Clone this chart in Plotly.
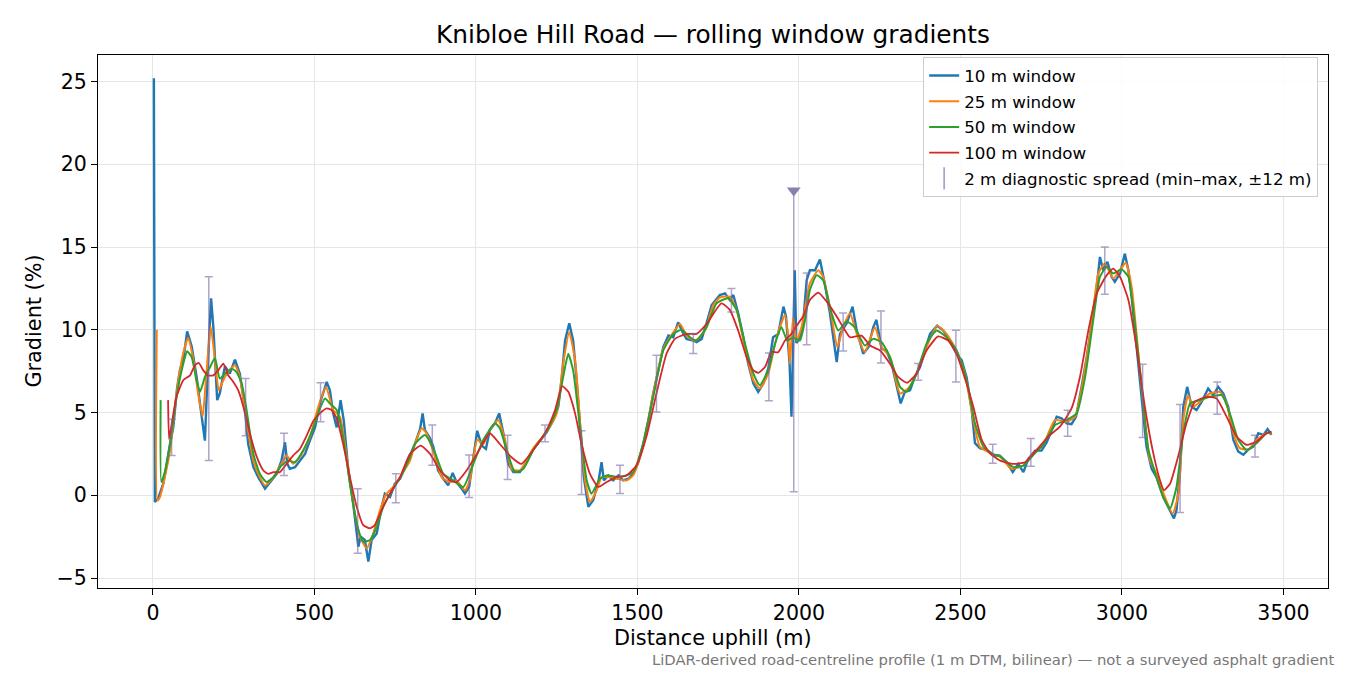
import plotly.graph_objects as go

# rolling-window gradient profiles (distance m, gradient %)
w10_x = [3, 6, 16, 32, 53, 63, 75, 84, 95, 106, 120, 135, 146, 161, 171, 180, 187, 199, 207, 223,
         238, 254, 269, 285, 295, 311, 326, 347, 367, 383, 398, 409, 416, 424, 440, 455, 471, 486, 502, 517,
         538, 548, 558, 569, 581, 591, 605, 620, 636, 643, 656, 667, 677, 693, 708, 718, 734, 749, 765, 785,
         811, 827, 835, 842, 858, 868, 883, 899, 914, 928, 940, 956, 966, 979, 992, 1004, 1018, 1031, 1043, 1059,
         1072, 1085, 1100, 1116, 1136, 1157, 1178, 1198, 1219, 1240, 1255, 1265, 1276, 1289, 1301, 1312, 1322, 1334, 1348, 1363,
         1379, 1389, 1396, 1410, 1425, 1441, 1456, 1472, 1487, 1503, 1518, 1534, 1549, 1565, 1580, 1596, 1611, 1626, 1640, 1652,
         1673, 1683, 1699, 1714, 1730, 1755, 1771, 1786, 1797, 1812, 1828, 1843, 1859, 1874, 1890, 1905, 1920, 1936, 1952, 1960,
         1966, 1971, 1977, 1982, 1987, 1992, 2003, 2013, 2024, 2034, 2050, 2065, 2080, 2096, 2108, 2117, 2127, 2148, 2166, 2179,
         2199, 2215, 2230, 2240, 2256, 2271, 2287, 2302, 2315, 2328, 2344, 2359, 2375, 2390, 2406, 2428, 2447, 2467, 2488, 2504,
         2519, 2535, 2545, 2560, 2581, 2602, 2622, 2643, 2662, 2679, 2695, 2710, 2731, 2751, 2767, 2785, 2798, 2813, 2829, 2844,
         2858, 2875, 2891, 2906, 2922, 2932, 2942, 2955, 2968, 2978, 2994, 3009, 3020, 3030, 3045, 3061, 3076, 3092, 3107, 3128,
         3149, 3161, 3169, 3180, 3190, 3202, 3216, 3231, 3247, 3267, 3283, 3298, 3314, 3329, 3345, 3360, 3376, 3391, 3407, 3422,
         3438, 3451, 3463]
w10_y = [25.2, -0.4, -0.2, 0.7, 3.1, 4.1, 6.5, 7.6, 8.3, 9.9, 9.0, 7.2, 5.5, 3.3, 8.2, 11.9, 10.2, 5.75, 6.15, 7.8,
         7.35, 8.2, 7.35, 5.15, 3.1, 1.7, 1.1, 0.4, 0.9, 1.3, 2.1, 3.2, 1.9, 1.6, 1.7, 2.1, 2.5, 3.3, 4.1, 5.55,
         6.85, 6.35, 4.95, 4.1, 5.75, 4.5, 1.5, -0.5, -3.1, -2.5, -2.7, -4.0, -2.7, -2.3, -0.7, 0.1, -0.1, 0.7, 1.0, 1.9,
         3.1, 4.0, 4.95, 3.95, 3.45, 2.95, 1.5, 1.0, 0.6, 1.35, 0.8, 0.4, 0.1, 0.5, 2.3, 3.9, 3.0, 2.8, 3.95, 4.35,
         4.95, 3.75, 1.9, 1.4, 1.4, 2.0, 2.8, 3.3, 3.8, 4.55, 5.35, 6.95, 9.35, 10.4, 9.35, 6.95, 4.35, 1.1, -0.7, -0.3,
         0.8, 2.0, 0.9, 1.2, 0.9, 1.2, 0.9, 1.0, 1.3, 2.0, 3.1, 4.55, 6.15, 7.55, 8.95, 9.65, 9.55, 10.45, 9.85, 9.45,
         9.35, 9.25, 9.45, 10.4, 11.5, 12.1, 12.2, 11.8, 12.1, 11.0, 9.55, 7.95, 6.75, 6.25, 6.75, 7.65, 9.55, 9.75, 11.4, 10.8,
         9.2, 8.0, 4.75, 8.5, 13.6, 9.2, 9.55, 10.4, 13.0, 13.6, 13.6, 14.25, 12.8, 11.0, 9.2, 8.05, 9.75, 10.4, 11.4, 9.95,
         8.55, 8.95, 10.15, 10.6, 8.85, 8.75, 7.95, 6.75, 5.55, 6.25, 6.35, 7.15, 7.75, 8.75, 9.75, 10.25, 9.95, 9.35, 8.55, 8.15,
         7.15, 5.15, 3.15, 2.85, 2.75, 2.45, 2.4, 2.0, 1.4, 1.9, 1.4, 2.2, 2.7, 2.7, 3.2, 4.05, 4.75, 4.65, 4.35, 4.3,
         4.75, 6.55, 8.35, 10.35, 12.6, 14.4, 13.6, 14.1, 13.2, 12.9, 13.4, 14.6, 13.6, 12.0, 8.95, 5.95, 2.95, 1.6, 1.1, -0.1,
         -0.9, -1.4, -0.9, 1.5, 5.35, 6.55, 5.35, 5.15, 5.65, 6.45, 6.05, 6.55, 6.15, 5.35, 3.35, 2.65, 2.45, 2.75, 2.95, 3.75,
         3.65, 4.0, 3.65]

w25_x = [12, 14, 22, 37, 53, 73, 94, 109, 125, 140, 154, 164, 179, 192, 204, 218, 233, 254, 269, 290,
         311, 331, 347, 373, 398, 414, 434, 455, 486, 512, 536, 558, 579, 600, 620, 641, 662, 682, 703, 723,
         744, 765, 796, 811, 832, 847, 868, 894, 920, 940, 966, 981, 1004, 1023, 1043, 1069, 1090, 1110, 1136, 1178,
         1219, 1250, 1270, 1289, 1307, 1322, 1338, 1353, 1374, 1389, 1410, 1436, 1466, 1487, 1518, 1549, 1580, 1601, 1632, 1652,
         1678, 1709, 1735, 1755, 1786, 1807, 1833, 1859, 1879, 1905, 1931, 1957, 1967, 1972, 1982, 1993, 2008, 2034, 2060, 2075,
         2101, 2119, 2137, 2158, 2179, 2204, 2235, 2256, 2282, 2313, 2338, 2364, 2395, 2428, 2457, 2488, 2514, 2540, 2560, 2602,
         2622, 2658, 2695, 2726, 2756, 2793, 2829, 2855, 2880, 2906, 2927, 2947, 2973, 2994, 3012, 3030, 3051, 3071, 3087, 3107,
         3133, 3157, 3175, 3190, 3205, 3221, 3242, 3272, 3303, 3324, 3345, 3365, 3391, 3417, 3448, 3463]
w25_y = [10.0, -0.3, -0.1, 1.1, 2.7, 6.15, 8.6, 9.5, 8.2, 6.15, 4.75, 6.95, 10.2, 8.2, 6.35, 6.95, 7.45, 7.85, 7.15, 4.5,
         2.1, 1.1, 0.6, 1.1, 1.9, 2.4, 1.9, 2.3, 3.5, 5.35, 6.55, 5.15, 4.75, 2.35, -0.5, -2.5, -3.2, -2.3, -0.9, 0.1,
         0.5, 1.1, 2.1, 3.1, 4.05, 3.75, 2.65, 1.1, 0.8, 0.9, 0.3, 0.9, 3.35, 3.1, 3.95, 4.55, 3.35, 1.6, 1.5, 2.85,
         3.85, 4.95, 7.95, 9.85, 8.15, 4.55, 0.9, -0.4, 0.3, 1.1, 1.1, 1.0, 0.9, 1.2, 2.95, 6.15, 8.85, 9.55, 10.35, 9.65,
         9.35, 9.95, 11.5, 11.95, 12.0, 11.2, 8.95, 6.95, 6.45, 7.35, 9.55, 10.9, 9.55, 7.95, 10.75, 9.35, 10.15, 12.8, 13.6, 13.2,
         10.8, 8.95, 10.15, 11.0, 9.75, 8.65, 10.15, 8.95, 8.35, 6.15, 6.45, 7.35, 8.95, 10.25, 9.75, 8.75, 7.35, 4.55, 2.95, 2.45,
         2.35, 1.6, 1.8, 2.55, 3.05, 4.55, 4.45, 4.75, 6.95, 10.35, 13.4, 14.0, 13.1, 13.6, 14.05, 12.6, 8.55, 4.55, 2.1, 1.3,
         -0.1, -1.1, 0.1, 4.55, 6.05, 5.35, 5.65, 6.15, 6.25, 5.55, 3.75, 2.85, 2.75, 3.35, 3.75, 3.75]

w50_x = [24, 26, 37, 53, 73, 94, 106, 120, 135, 146, 161, 177, 192, 207, 223, 244, 259, 275, 290, 311,
         331, 352, 373, 398, 419, 440, 465, 497, 517, 533, 548, 569, 589, 610, 631, 651, 672, 693, 713, 734,
         765, 796, 811, 842, 868, 899, 930, 961, 992, 1023, 1059, 1074, 1095, 1121, 1147, 1178, 1219, 1250, 1270, 1286,
         1301, 1322, 1343, 1358, 1384, 1405, 1446, 1487, 1518, 1549, 1580, 1611, 1637, 1663, 1683, 1714, 1745, 1781, 1807, 1833,
         1859, 1879, 1905, 1926, 1946, 1964, 1982, 2003, 2019, 2034, 2055, 2075, 2101, 2122, 2148, 2173, 2204, 2230, 2256, 2282,
         2313, 2333, 2364, 2395, 2426, 2457, 2488, 2519, 2545, 2571, 2602, 2622, 2664, 2695, 2726, 2756, 2793, 2829, 2860, 2886,
         2911, 2932, 2953, 2973, 2999, 3020, 3035, 3056, 3082, 3107, 3128, 3149, 3169, 3190, 3211, 3242, 3272, 3309, 3334, 3360,
         3386, 3417, 3448, 3463]
w50_y = [5.75, 0.8, 1.4, 3.1, 5.95, 7.95, 8.7, 8.35, 6.95, 6.25, 7.15, 7.75, 8.3, 7.05, 7.35, 7.65, 7.45, 6.75, 5.15, 2.5,
         1.3, 0.8, 1.1, 1.8, 2.1, 2.0, 2.7, 4.1, 5.25, 5.85, 5.55, 5.15, 3.5, 0.7, -1.7, -2.8, -2.7, -1.9, -0.7, 0.1,
         1.05, 2.3, 3.1, 3.65, 2.85, 1.3, 0.9, 0.5, 1.9, 3.35, 4.35, 4.05, 2.75, 1.4, 1.6, 2.75, 3.85, 5.15, 7.15, 8.55,
         7.55, 4.15, 0.9, 0.1, 1.0, 1.2, 1.1, 1.4, 3.15, 5.95, 8.75, 9.75, 10.0, 9.55, 9.35, 10.15, 11.6, 11.9, 11.2, 9.15,
         7.35, 6.65, 7.55, 9.15, 10.15, 9.35, 9.55, 9.35, 10.6, 12.4, 13.3, 13.0, 11.0, 9.95, 10.5, 10.15, 9.05, 9.45, 9.25, 8.35,
         6.55, 6.25, 7.35, 9.15, 9.95, 9.55, 8.75, 6.95, 4.35, 2.95, 2.45, 2.35, 1.7, 1.8, 2.45, 3.05, 4.25, 4.55, 4.95, 7.15,
         10.55, 13.2, 13.8, 13.4, 13.65, 13.2, 11.2, 7.55, 2.75, 1.1, -0.1, -0.8, 0.5, 3.75, 5.55, 5.75, 5.95, 6.05, 4.95, 3.35,
         2.75, 3.15, 3.75, 3.8]

w100_x = [47, 50, 58, 73, 94, 115, 130, 142, 156, 171, 187, 202, 218, 233, 249, 264, 280, 300, 321, 342,
          357, 373, 393, 414, 434, 455, 476, 497, 517, 538, 553, 569, 589, 610, 631, 651, 672, 687, 708, 734,
          765, 796, 829, 858, 889, 920, 940, 971, 1012, 1043, 1074, 1110, 1141, 1178, 1219, 1245, 1267, 1286, 1307, 1327,
          1353, 1379, 1405, 1436, 1466, 1497, 1528, 1559, 1590, 1616, 1652, 1683, 1714, 1760, 1786, 1812, 1838, 1859, 1874, 1895,
          1915, 1936, 1957, 1977, 1993, 2013, 2034, 2060, 2086, 2117, 2137, 2158, 2194, 2220, 2251, 2282, 2307, 2335, 2364, 2395,
          2431, 2462, 2488, 2519, 2540, 2566, 2591, 2622, 2664, 2700, 2736, 2772, 2808, 2844, 2870, 2896, 2922, 2953, 2973, 2994,
          3020, 3045, 3071, 3097, 3118, 3130, 3149, 3174, 3200, 3226, 3262, 3293, 3324, 3355, 3386, 3417, 3448, 3463]
w100_y = [5.75, 3.4, 4.3, 5.95, 6.95, 7.25, 7.85, 8.0, 7.55, 7.25, 7.25, 7.55, 7.95, 7.25, 6.85, 6.35, 5.35, 3.75, 2.35, 1.5,
          1.3, 1.4, 1.4, 1.9, 2.4, 2.8, 3.6, 4.5, 4.95, 5.25, 5.15, 4.65, 3.1, 1.1, -0.7, -1.8, -2.0, -1.8, -0.9, 0.1,
          1.1, 2.5, 3.0, 2.5, 1.5, 0.9, 0.8, 1.5, 2.8, 3.75, 3.1, 2.3, 1.9, 2.75, 3.95, 5.15, 6.6, 6.25, 4.95, 3.1,
          1.3, 0.5, 0.8, 1.1, 1.2, 1.8, 3.55, 6.15, 8.55, 9.45, 9.75, 9.75, 10.35, 11.6, 11.2, 9.95, 8.35, 7.55, 7.4, 7.75,
          8.65, 8.65, 9.35, 9.75, 10.25, 10.8, 11.8, 12.25, 11.7, 10.8, 10.15, 9.55, 9.65, 9.05, 8.75, 7.95, 7.15, 6.8, 7.35, 8.75,
          9.6, 9.35, 8.55, 6.75, 5.35, 3.35, 2.55, 2.1, 1.9, 2.0, 2.75, 3.55, 4.15, 5.25, 7.15, 9.95, 12.2, 13.3, 13.7, 13.2,
          11.8, 8.95, 5.35, 2.55, 0.9, 0.3, 0.7, 2.35, 4.35, 5.65, 5.95, 5.85, 4.75, 3.55, 3.05, 3.25, 3.75, 3.85]

# 2 m diagnostic spread (min / max within +-12 m)
diag_x = [58, 173, 287, 406, 519, 634, 752, 865, 979, 1098, 1214, 1327, 1446, 1559, 1673,
          1791, 1907, 1984, 2024, 2137, 2254, 2369, 2486, 2600, 2718, 2832, 2947, 3064, 3180, 3295, 3412]
diag_hi = [4.6, 13.2, 7.05, 3.75, 6.8, 0.4, 1.3, 4.24, 2.43, 3.63, 4.24, 3.9, 1.82, 8.46, 9.77,
           12.49, 8.6, 18.42, 13.43, 11.02, 11.14, 7.96, 9.97, 3.09, 3.43, 5.14, 15.0, 7.92, 5.48, 6.85, 3.63]
diag_lo = [2.4, 2.1, 3.6, 1.2, 4.45, -3.5, -0.45, 1.82, -0.13, 0.96, 3.23, 0.05, 0.11, 5.04, 8.56,
           11.08, 5.71, 0.21, 9.09, 8.72, 8.0, 6.95, 6.85, 1.93, 1.76, 3.57, 12.14, 3.49, -1.04, 4.9, 2.32]
clip_x = [1984]
clip_y = [18.42]

FONT = 'DejaVu Sans'
DIAG_COLOR = 'rgba(120,104,165,0.6)'

fig = go.Figure()

# the 10 m line keeps straight segments so the start spike stays vertical
series = [
    (w10_x, w10_y, '10 m window', '#1f77b4', 2.4, 'linear'),
    (w25_x, w25_y, '25 m window', '#ff7f0e', 2.0, 'spline'),
    (w50_x, w50_y, '50 m window', '#2ca02c', 2.0, 'spline'),
    (w100_x, w100_y, '100 m window', '#d62728', 1.8, 'spline'),
]
for xs, ys, name, color, lw, shape in series:
    fig.add_trace(go.Scatter(x=xs, y=ys, mode='lines', name=name, legendgroup=name,
                             line=dict(color=color, width=lw, shape=shape, smoothing=0.5)))

fig.add_trace(go.Scatter(
    x=diag_x, y=diag_lo, mode='markers', showlegend=False, hoverinfo='skip',
    marker=dict(size=1, color='rgba(0,0,0,0)'),
    error_y=dict(type='data', symmetric=False,
                 array=[h - l for h, l in zip(diag_hi, diag_lo)],
                 arrayminus=[0] * len(diag_lo),
                 color=DIAG_COLOR, thickness=1.5, width=4)))

fig.add_trace(go.Scatter(x=clip_x, y=clip_y, mode='markers', showlegend=False,
                         marker=dict(symbol='triangle-down', size=12, color='#8a7fae')))

# legend entry for the spread bars
fig.add_trace(go.Scatter(x=[None], y=[None], mode='markers',
                         name='2 m diagnostic spread (min–max, ±12 m)', legendgroup='diag',
                         marker=dict(symbol='line-ns', size=16,
                                     line=dict(width=1.8, color=DIAG_COLOR))))

# page body adds an 8 px offset, margins compensate for it
fig.update_layout(
    width=1350, height=675,
    margin=dict(l=90, r=30, t=47, b=95),
    paper_bgcolor='white', plot_bgcolor='white',
    font=dict(family=FONT, size=20.8, color='black'),
    title=dict(text='Knibloe Hill Road — rolling window gradients', x=0.5, xanchor='center',
               xref='paper', y=0.9615, yanchor='middle', font=dict(size=24.8)),
    showlegend=True,
    legend=dict(x=0.992, y=0.996, xanchor='right', yanchor='top',
                bgcolor='rgba(255,255,255,0.85)', bordercolor='#cccccc', borderwidth=1,
                font=dict(size=16.7), traceorder='grouped', tracegroupgap=1),
)

fig.update_xaxes(range=[-170, 3638], tickvals=[0, 500, 1000, 1500, 2000, 2500, 3000, 3500],
                 showgrid=True, gridcolor='#e6e6e6', gridwidth=1, zeroline=False,
                 showline=True, linecolor='black', linewidth=1.2, mirror=True,
                 ticks='outside', ticklen=6, tickcolor='black', tickfont=dict(size=20.5),
                 automargin=False)
fig.update_yaxes(range=[-5.6, 26.6], tickvals=[-5, 0, 5, 10, 15, 20, 25],
                 showgrid=True, gridcolor='#e6e6e6', gridwidth=1, zeroline=False,
                 showline=True, linecolor='black', linewidth=1.2, mirror=True,
                 ticks='outside', ticklen=6, tickcolor='black', tickfont=dict(size=20.5),
                 automargin=False)

fig.add_annotation(text='Distance uphill (m)', xref='paper', yref='paper', x=0.5, y=-0.094,
                   xanchor='center', yanchor='middle', showarrow=False, font=dict(size=20.8))
fig.add_annotation(text='Gradient (%)', xref='paper', yref='paper', x=-0.0528, y=0.5,
                   xanchor='center', yanchor='middle', textangle=-90, showarrow=False,
                   font=dict(size=20.8))
fig.add_annotation(text='LiDAR-derived road-centreline profile (1 m DTM, bilinear) — not a surveyed asphalt gradient',
                   xref='paper', yref='paper', x=1.0065, y=-0.135, xanchor='right', yanchor='middle',
                   showarrow=False, font=dict(size=14.8, color='#777777'))

fig.write_html('out.html')
